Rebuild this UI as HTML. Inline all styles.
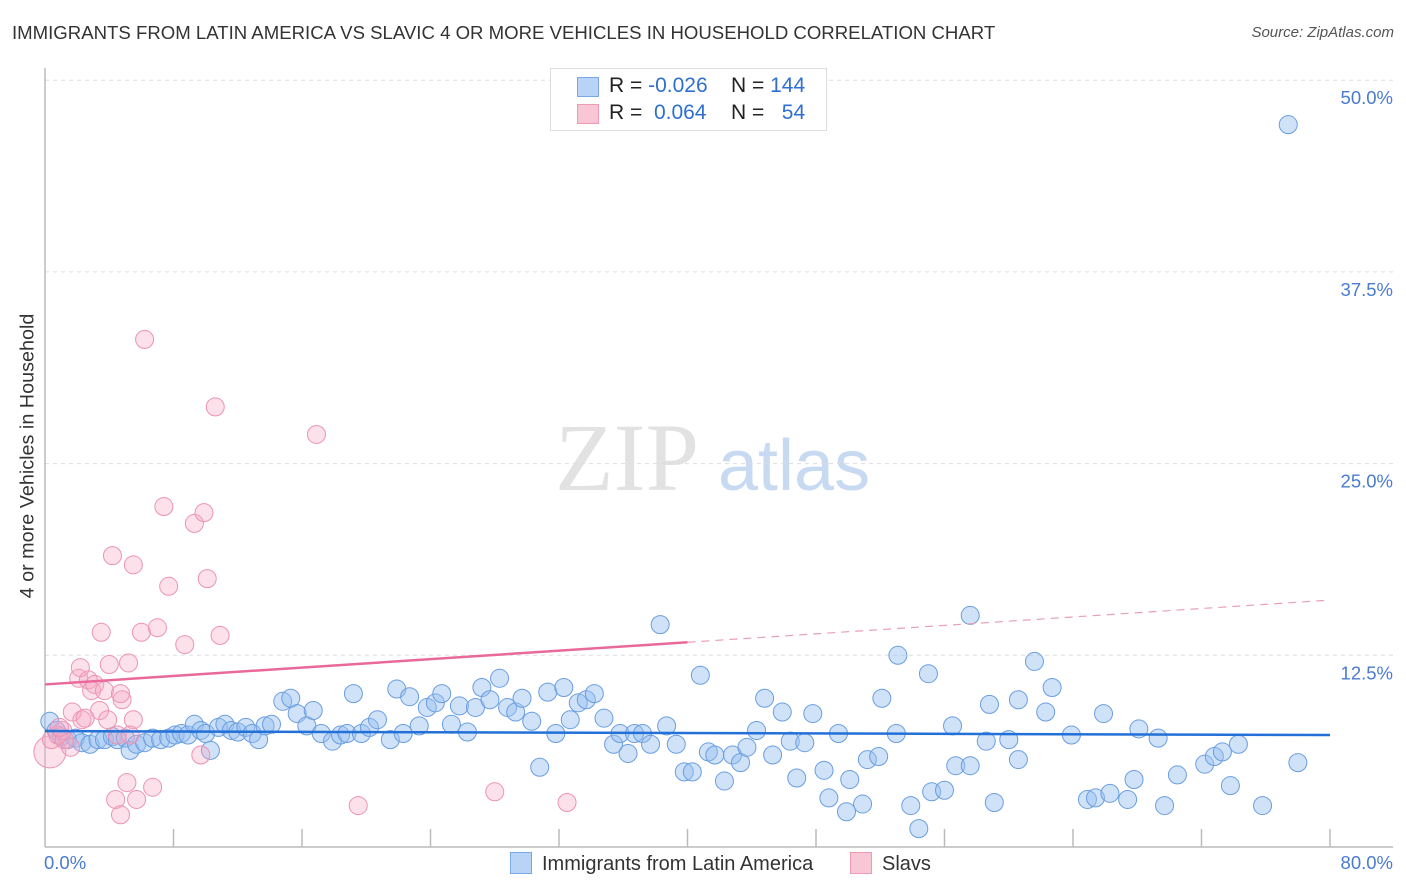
<!DOCTYPE html>
<html><head><meta charset="utf-8">
<style>
body{margin:0;background:#fff;font-family:"Liberation Sans",sans-serif;}
#wrap{position:relative;width:1406px;height:892px;overflow:hidden;}
.t{position:absolute;white-space:nowrap;}
</style></head>
<body>
<div id="wrap">
<div class="t" style="left:12px;top:22px;font-size:18.6px;color:#333;">IMMIGRANTS FROM LATIN AMERICA VS SLAVIC 4 OR MORE VEHICLES IN HOUSEHOLD CORRELATION CHART</div>
<div class="t" style="right:12px;top:24px;font-size:15px;color:#555;font-style:italic;">Source: ZipAtlas.com</div>
<svg id="svg" width="1406" height="892" style="position:absolute;left:0;top:0"></svg>
</div>
<script>
const blueX=[0.3,0.7,1.0,1.4,1.9,2.3,2.8,3.3,3.7,4.2,4.5,5.0,5.3,5.7,6.2,6.7,7.2,7.7,8.1,8.5,8.9,9.3,9.7,10.0,10.3,10.8,11.2,11.6,12.0,12.5,12.9,13.3,13.7,14.1,14.8,15.3,15.7,16.3,16.7,17.2,17.9,18.4,18.8,19.2,19.7,20.2,20.7,21.5,21.9,22.3,22.7,23.3,23.8,24.3,24.7,25.3,25.8,26.3,26.8,27.2,27.7,28.3,28.8,29.3,29.7,30.3,30.8,31.3,31.8,32.3,32.7,33.2,33.7,34.2,34.8,35.4,35.8,36.3,36.7,37.2,37.7,38.3,38.7,39.3,39.8,40.3,40.8,41.3,41.7,42.3,42.8,43.3,43.7,44.3,44.8,45.3,45.9,46.4,46.8,47.3,47.8,48.5,48.8,49.4,49.9,50.1,50.9,51.2,51.9,52.1,53.0,53.1,53.9,54.4,55.0,55.2,56.0,56.5,56.7,57.6,57.6,58.6,58.8,59.1,60.0,60.6,60.6,61.6,62.3,62.7,63.9,64.9,65.4,65.9,66.3,67.4,67.8,68.1,69.3,69.7,70.5,72.2,72.8,73.3,73.8,74.3,75.8,77.4,78.0];
const blueY=[8.2,7.6,7.2,7.0,7.1,6.8,6.7,7.0,7.0,7.2,7.0,7.1,6.3,6.7,6.8,7.1,7.0,7.1,7.3,7.4,7.3,8.0,7.6,7.4,6.3,7.8,8.0,7.6,7.5,7.8,7.4,7.0,7.9,8.0,9.5,9.7,8.7,7.9,8.9,7.4,6.9,7.3,7.4,10.0,7.4,7.8,8.3,7.0,10.3,7.4,9.8,7.9,9.1,9.4,10.0,8.0,9.2,7.5,9.1,10.4,9.6,11.0,9.1,8.8,9.7,8.2,5.2,10.1,7.4,10.4,8.3,9.4,9.6,10.0,8.4,6.7,7.4,6.1,7.4,7.4,6.7,14.5,7.9,6.7,4.9,4.9,11.2,6.2,6.0,4.3,6.0,5.5,6.5,7.6,9.7,6.0,8.8,6.9,4.5,6.8,8.7,5.0,3.2,7.4,2.3,4.4,2.8,5.7,5.9,9.7,7.4,12.5,2.7,1.2,11.3,3.6,3.7,7.9,5.3,5.3,15.1,6.9,9.3,2.9,7.0,9.6,5.7,12.1,8.8,10.4,7.3,3.1,3.2,8.7,3.5,3.1,4.4,7.7,7.1,2.7,4.7,5.4,5.9,6.2,4.0,6.7,2.7,47.1,5.5];
const pinkX=[0.3,0.4,0.8,1.1,1.2,1.6,1.7,2.1,2.3,2.5,2.7,2.9,3.1,3.4,3.5,3.7,3.9,4.2,4.4,4.5,4.7,4.8,5.1,5.2,5.5,5.5,5.7,6.0,6.2,6.7,7.0,7.4,7.7,8.7,9.3,9.7,9.9,10.1,10.6,10.9,16.9,19.5,28.0,32.5,2.2,4.0,4.7,5.3,0.9];
const pinkY=[6.2,7.0,7.3,7.6,7.0,6.5,8.8,11.0,8.3,8.4,10.9,10.2,10.6,8.9,14.0,10.2,8.3,19.0,3.1,7.3,2.1,9.6,4.2,12.0,18.4,8.3,3.1,14.0,33.1,3.9,14.3,22.2,17.0,13.2,21.1,6.0,21.8,17.5,28.7,13.8,26.9,2.7,3.6,2.9,11.7,11.9,10.0,7.3,7.8];
const blueTrend=[7.56,7.30];
const pinkTrend=[10.6,16.1];
const yTicks=[12.5,25,37.5,50];
const yTickLabels=["12.5%","25.0%","37.5%","50.0%"];

const X0=45,X1=1330,Y0=847,PY=15.336;
const sx=v=>X0+(v/80)*(X1-X0);
const sy=v=>Y0-v*PY;
const svg=document.getElementById('svg');
const NS='http://www.w3.org/2000/svg';
function mk(tag,attrs,parent){const e=document.createElementNS(NS,tag);for(const k in attrs)e.setAttribute(k,attrs[k]);(parent||svg).appendChild(e);return e;}

let w1=mk('text',{x:555,y:490,'font-family':'Liberation Serif,serif','font-size':96,fill:'#e2e2e2'});w1.textContent='ZIP';


let w2=mk('text',{x:718,y:490,'font-family':'Liberation Sans,sans-serif','font-size':72,fill:'#c8daf2'});w2.textContent='atlas';



yTicks.forEach((v,i)=>{
  let g=mk('line',{x1:X0,x2:1393,y1:sy(v),y2:sy(v),stroke:'#ddd','stroke-dasharray':'4,4'});
  
  
  let t=mk('text',{x:1393,y:sy(v)+24,'text-anchor':'end','font-size':18.5,fill:'#4a7bd0','font-family':'Liberation Sans,sans-serif'});
  t.textContent=yTickLabels[i];
  
  
});
let ax=mk('line',{x1:X0,x2:1393,y1:Y0,y2:Y0,stroke:'#bbb','stroke-width':1.5});


let ay=mk('line',{x1:X0,x2:X0,y1:68,y2:Y0,stroke:'#bbb','stroke-width':1.5});


for(let i=1;i<=10;i++){
  let tk=mk('line',{x1:X0+i*128.5,x2:X0+i*128.5,y1:Y0,y2:Y0-18,stroke:'#bbb','stroke-width':1.5});
  
  
}
function pts(xs,ys,fill,stroke,name){
  xs.forEach((x,i)=>{
    let r=(name==='slavs-point'&&i===0)?16:9;
    let c=mk('circle',{cx:sx(x),cy:sy(ys[i]),r:r,fill:fill,stroke:stroke,'stroke-width':1});
    
    
  });
}
pts(blueX,blueY,'rgba(150,190,240,0.45)','#6a9ee0','latin-america-point');
pts(pinkX,pinkY,'rgba(245,170,198,0.35)','#ec93b1','slavs-point');
let bt=mk('line',{x1:sx(0),y1:sy(blueTrend[0]),x2:sx(80),y2:sy(blueTrend[1]),stroke:'#2370d8','stroke-width':2.5});


const pmid=pinkTrend[0]+(pinkTrend[1]-pinkTrend[0])*0.5;
let pt=mk('line',{x1:sx(0),y1:sy(pinkTrend[0]),x2:sx(40),y2:sy(pmid),stroke:'#e8699a','stroke-width':2.5});


let pd=mk('line',{x1:sx(40),y1:sy(pmid),x2:sx(80),y2:sy(pinkTrend[1]),stroke:'#e8a0b8','stroke-width':1.2,'stroke-dasharray':'8,6'});


</script>
<div class="t" style="left:28px;top:456px;font-size:19.8px;color:#333;transform:translate(-50%,-50%) rotate(-90deg);">4 or more Vehicles in Household</div>
<div class="t" style="left:44px;top:852px;font-size:18.5px;color:#4a7bd0;">0.0%</div>
<div class="t" style="right:13px;top:852px;font-size:18.5px;color:#4a7bd0;">80.0%</div>
<div style="position:absolute;left:550px;top:68px;width:275px;height:61px;border:1px solid #ddd;background:#fff;font-size:21px;color:#222;">
 <div style="position:absolute;left:26px;top:8px;width:20px;height:18px;background:#b8d3f5;border:1px solid #7aa8e6"></div>
 <div class="t" style="left:58px;top:5px">R = <span style="color:#2f6fd0">-0.026</span></div>
 <div class="t" style="left:180px;top:5px">N = <span style="color:#2f6fd0">144</span></div>
 <div style="position:absolute;left:26px;top:35px;width:20px;height:18px;background:#f9c6d5;border:1px solid #ee9ab5"></div>
 <div class="t" style="left:58px;top:32px">R = &nbsp;<span style="color:#2f6fd0">0.064</span></div>
 <div class="t" style="left:180px;top:32px">N = &nbsp;&nbsp;<span style="color:#2f6fd0">54</span></div>
</div>
<div style="position:absolute;left:510px;top:852px;font-size:20px;color:#333;">
 <div style="position:absolute;left:0;top:0;white-space:nowrap;"><span style="display:inline-block;width:20px;height:20px;background:#b8d3f5;border:1px solid #7aa8e6;vertical-align:-4px;margin-right:10px"></span>Immigrants from Latin America</div>
 <div style="position:absolute;left:340px;top:0;white-space:nowrap;"><span style="display:inline-block;width:20px;height:20px;background:#f9c6d5;border:1px solid #ee9ab5;vertical-align:-4px;margin-right:10px"></span>Slavs</div>
</div>
</body></html>
